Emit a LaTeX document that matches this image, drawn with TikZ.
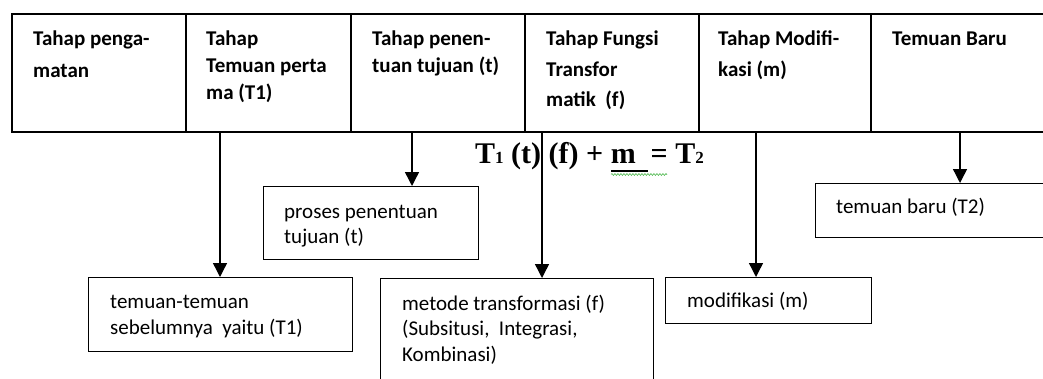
\documentclass[tikz,border=0pt]{standalone}
\usepackage{fontspec}
\setmainfont{Carlito}
\newfontfamily\eqfont{Liberation Serif}
\usetikzlibrary{arrows.meta,decorations.pathmorphing}
\begin{document}
\begin{tikzpicture}[x=1pt,y=-1pt,
  hd/.style={font=\fontsize{21}{25}\selectfont\bfseries, anchor=base west, inner sep=0pt},
  tx/.style={font=\fontsize{21}{25}\selectfont, anchor=base west, inner sep=0pt},
  cell/.style={draw, line width=1.6pt, anchor=north west, inner sep=0pt, minimum height=118pt},
  bx/.style={draw, line width=1.4pt, anchor=north west, inner sep=0pt},
  arr/.style={line width=1.4pt, -{Triangle[width=14pt,length=14pt]}},
  eqs/.style={font=\eqfont\fontsize{30}{34}\selectfont\bfseries, anchor=base west, inner sep=0pt},
  wavy/.style={draw=green!60!black!70, line width=0.6pt, decorate, decoration={snake, amplitude=0.9pt, segment length=3pt}}
]
\clip (0,0) rectangle (1043,378);
\fill[white] (0,0) rectangle (1043,378);
% header cells
\node[cell, minimum width=174pt] (c1) at (11,13) {};
\node[cell, minimum width=165pt] (c2) at (185,13) {};
\node[cell, minimum width=174pt] (c3) at (350,13) {};
\node[cell, minimum width=174pt] (c4) at (524,13) {};
\node[cell, minimum width=172pt] (c5) at (698,13) {};
\node[cell, minimum width=220pt] (c6) at (870,13) {};
% header texts
\node[hd] (h1a) at (33,45) {Tahap penga-};
\node[hd] (h1b) at (33,77) {matan};
\node[hd] (h2a) at (206,45) {Tahap};
\node[hd] (h2b) at (206,72) {Temuan perta};
\node[hd] (h2c) at (206,99) {ma (T1)};
\node[hd] (h3a) at (372,45) {Tahap penen-};
\node[hd] (h3b) at (372,72) {tuan tujuan (t)};
\node[hd] (h4a) at (546,45) {Tahap Fungsi};
\node[hd] (h4b) at (546,76) {Transfor};
\node[hd] (h4c) at (546,106) {matik\ \ (f)};
\node[hd] (h5a) at (718,45) {Tahap Modifi-};
\node[hd] (h5b) at (718,76) {kasi (m)};
\node[hd] (h6a) at (892,45) {Temuan Baru};
% boxes
\node[bx, minimum width=264pt, minimum height=74pt] (b1) at (88,277) {};
\node[bx, minimum width=215pt, minimum height=73pt] (b2) at (263,186) {};
\node[bx, minimum width=273pt, minimum height=150pt] (b3) at (380,278) {};
\node[bx, minimum width=206pt, minimum height=46pt] (b4) at (665,277) {};
\node[bx, minimum width=260pt, minimum height=54pt] (b5) at (815,183) {};
% box texts
\node[tx] (t1a) at (110,308) {temuan-temuan};
\node[tx] (t1b) at (110,334) {sebelumnya\ \ yaitu (T1)};
\node[tx] (t2a) at (284,218) {proses penentuan};
\node[tx] (t2b) at (284,243) {tujuan (t)};
\node[tx] (t3a) at (402,310) {metode transformasi (f)};
\node[tx] (t3b) at (402,335) {(Subsitusi,\ \ Integrasi,};
\node[tx] (t3c) at (402,361) {Kombinasi)};
\node[tx] (t4a) at (687,307) {modifikasi (m)};
\node[tx] (t5a) at (836,213) {temuan baru (T2)};
% arrows
\coordinate (a1) at (220,131);
\coordinate (a2) at (412,131);
\coordinate (a3) at (542,131);
\coordinate (a4) at (756,131);
\coordinate (a5) at (960,131);
\draw[arr] (a1) -- (a1 |- b1.north);
\draw[arr] (a2) -- (a2 |- b2.north);
\draw[arr] (a3) -- (a3 |- b3.north);
\draw[arr] (a4) -- (a4 |- b4.north);
\draw[arr] (a5) -- (a5 |- b5.north);
% equation
\node[eqs] (eq) at (475,163) {T{\fontsize{17}{17}\selectfont 1} (t) (f) + m \ = T{\fontsize{17}{17}\selectfont 2}};
\coordinate (ul1) at (611,171);
\coordinate (ul2) at (648,171);
\draw[line width=1.3pt] (ul1) -- (ul2);
\coordinate (wv1) at (611,174.5);
\coordinate (wv2) at (667,174.5);
\path[wavy] (wv1) -- (wv2);
\end{tikzpicture}
\end{document}
